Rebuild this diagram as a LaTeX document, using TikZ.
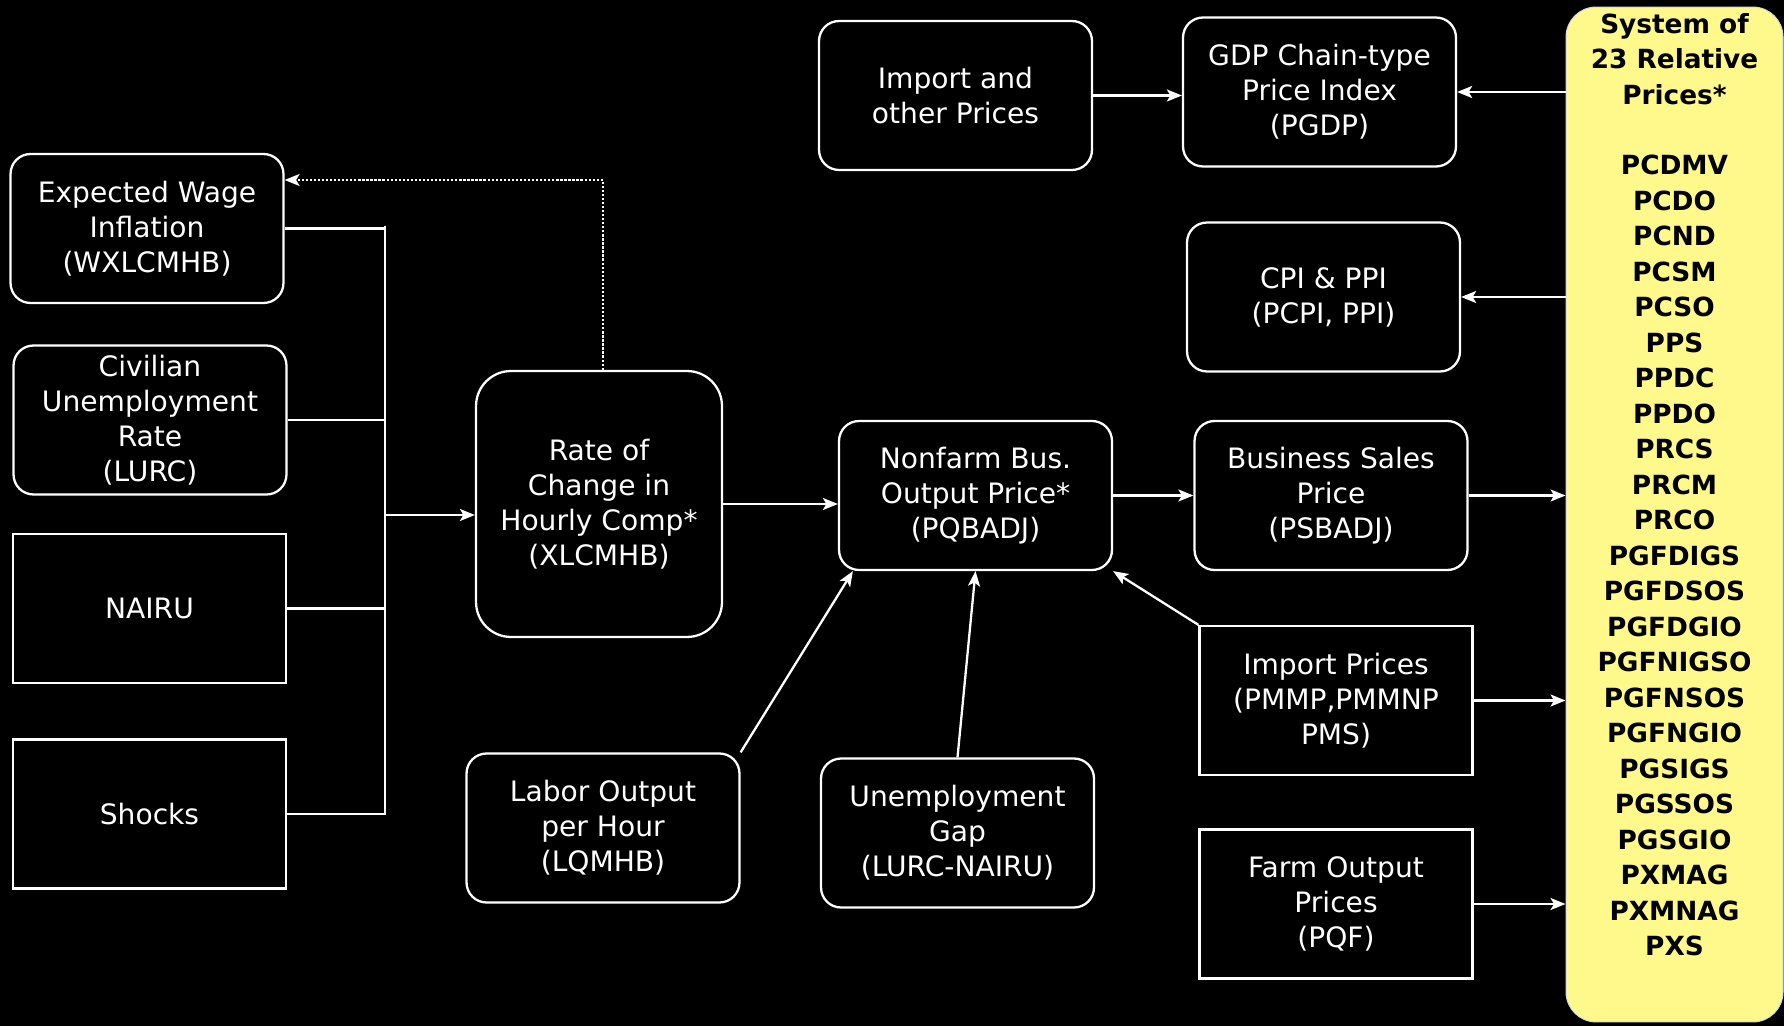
\documentclass[tikz,border=0pt]{standalone}
\usepackage{fontspec}
\setmainfont{DejaVu Sans}
\usetikzlibrary{positioning, arrows.meta}

\newcommand{\boxfont}{\fontsize{16}{20}\selectfont}
\newcommand{\listfont}{\fontsize{15}{20.2}\selectfont}

\tikzset{
    box/.style={draw=white, line width=1.3pt, text=white, align=center,
        minimum width=5.46cm, minimum height=2.98cm, inner sep=2pt,
        rounded corners=0.4cm, font=\boxfont},
    sqbox/.style={box, sharp corners},
    link/.style={draw=white, line width=1.3pt},
    arrow/.style={link, -{Stealth[length=0.3cm, width=0.24cm, inset=0.07cm]}},
    feedback/.style={arrow, densely dotted}
}

\begin{document}
\begin{tikzpicture}[x=0.02cm, y=-0.02cm]
    % background, fixes the page
    \path[fill=black] (0,0) rectangle (1784,1026);

    % inputs to wage equation
    \node[box] (wage) at (147,228.5) {Expected Wage\\Inflation\\(WXLCMHB)};
    \node[box] (civ) at (150,420) {Civilian\\Unemployment\\Rate\\(LURC)};
    \node[sqbox] (nairu) at (149.5,608.5) {NAIRU};
    \node[sqbox] (shocks) at (149.5,814) {Shocks};

    \node[box, minimum width=4.92cm, minimum height=5.32cm, rounded corners=0.7cm] (rate) at (599,504)
        {Rate of\\Change in\\Hourly Comp*\\(XLCMHB)};

    % price block
    \node[box] (nonfarm) at (975.5,495.5) {Nonfarm Bus.\\Output Price*\\(PQBADJ)};
    \node[box] (importo) at (955.5,95.5) {Import and\\other Prices};
    \node[box] (gdp) at (1319.5,92) {GDP Chain-type\\Price Index\\(PGDP)};
    \node[box] (cpi) at (1323.5,297) {CPI \& PPI\\(PCPI, PPI)};
    \node[box] (business) at (1331,495.5) {Business Sales\\Price\\(PSBADJ)};
    \node[sqbox] (importp) at (1336,700.5) {Import Prices\\(PMMP,PMMNP\\PMS)};
    \node[sqbox] (farm) at (1336,904) {Farm Output\\Prices\\(PQF)};
    \node[box] (labor) at (603,828) {Labor Output\\per Hour\\(LQMHB)};
    \node[box] (ugap) at (957.5,833) {Unemployment\\Gap\\(LURC-NAIRU)};

    % relative prices
    \node[draw=white!85!black, fill=yellow!45, line width=0.6pt, rounded corners=0.6cm,
          minimum width=4.34cm, minimum height=20.3cm] (system) at (1674.5,514.5) {};
    \node[anchor=north, text=black, align=center, inner sep=0pt,
          font=\listfont\bfseries] (syslist) at (1674.5,13) {
        System of\\23 Relative\\Prices*\\[20pt]
        PCDMV\\PCDO\\PCND\\PCSM\\PCSO\\PPS\\PPDC\\PPDO\\PRCS\\PRCM\\PRCO\\
        PGFDIGS\\PGFDSOS\\PGFDGIO\\PGFNIGSO\\PGFNSOS\\PGFNGIO\\PGSIGS\\
        PGSSOS\\PGSGIO\\PXMAG\\PXMNAG\\PXS
    };

    % collector line
    \coordinate (bustop) at (385,226);
    \coordinate (busbot) at (385,815);
    \coordinate (busmid) at (385,515);
    \coordinate (fbk) at (603,180);
    \draw[link] (wage.east) -- (wage.east -| bustop);
    \draw[link] (civ.east) -- (civ.east -| bustop);
    \draw[link] (nairu.east) -- (nairu.east -| bustop);
    \draw[link] (shocks.east) -- (shocks.east -| bustop);
    \draw[link] (bustop) -- (busbot);
    \draw[arrow] (busmid) -- (busmid -| rate.west);

    % feedback to expectations
    \draw[feedback] (fbk |- rate.north) |- (wage.east |- fbk);

    \draw[arrow] (rate.east) -- (rate.east -| nonfarm.west);
    \draw[arrow] (nonfarm) -- (business);
    \draw[arrow] (labor.north east) -- ([xshift=0.3cm]nonfarm.south west);
    \draw[arrow] (ugap.north) -- (nonfarm.south);
    \draw[arrow] (importp.north west) -- (nonfarm.south east);
    \draw[arrow] (importo.east) -- (importo.east -| gdp.west);

    \draw[arrow] (system.west |- gdp.east) -- (gdp.east);
    \draw[arrow] (system.west |- cpi.east) -- (cpi.east);
    \draw[arrow] (business.east) -- (business.east -| system.west);
    \draw[arrow] (importp.east) -- (importp.east -| system.west);
    \draw[arrow] (farm.east) -- (farm.east -| system.west);
\end{tikzpicture}
\end{document}
